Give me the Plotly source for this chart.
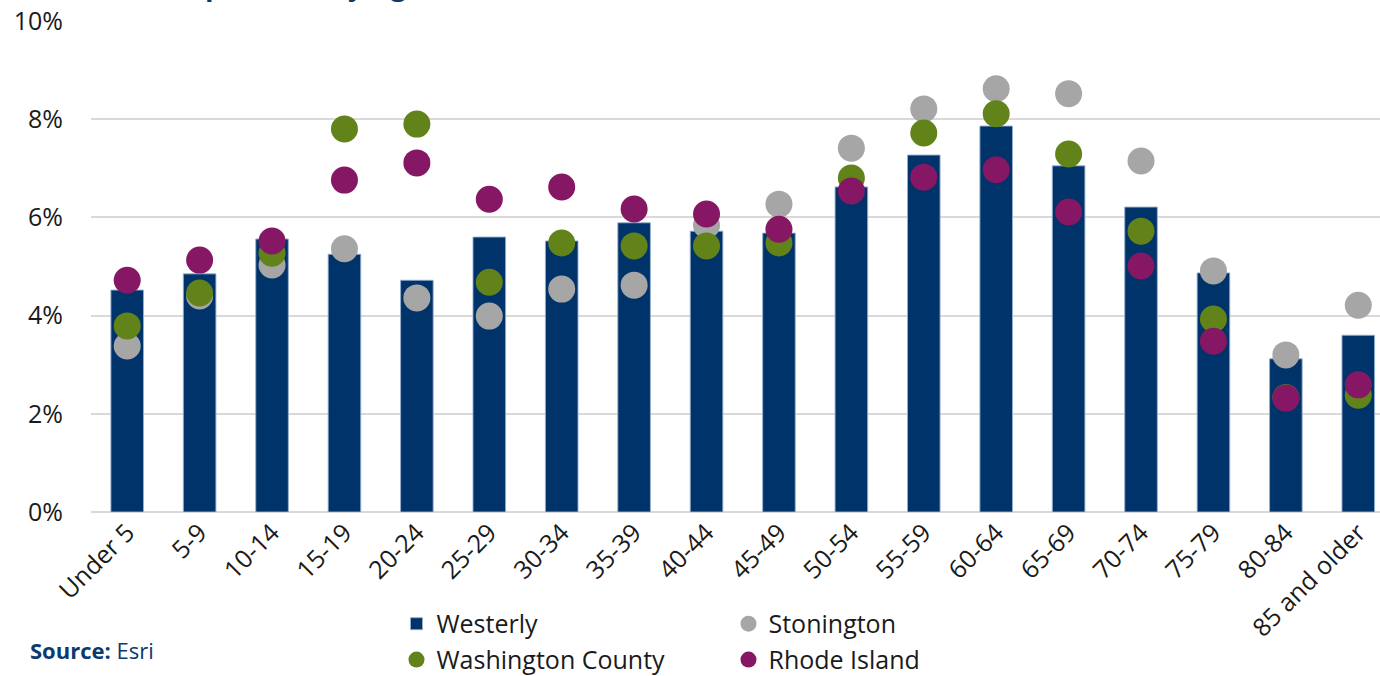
import plotly.graph_objects as go

age_groups = ["Under 5", "5-9", "10-14", "15-19", "20-24", "25-29", "30-34", "35-39",
              "40-44", "45-49", "50-54", "55-59", "60-64", "65-69", "70-74", "75-79",
              "80-84", "85 and older"]

westerly = [4.52, 4.85, 5.56, 5.25, 4.72, 5.60, 5.52, 5.89, 5.72, 5.68, 6.62, 7.27,
            7.86, 7.05, 6.21, 4.87, 3.12, 3.60]
stonington = [3.38, 4.40, 5.03, 5.36, 4.36, 3.99, 4.54, 4.62, 5.84, 6.27, 7.41, 8.21,
              8.62, 8.52, 7.15, 4.91, 3.20, 4.21]
washington_county = [3.79, 4.46, 5.27, 7.80, 7.90, 4.68, 5.48, 5.42, 5.42, 5.48, 6.80, 7.72,
                     8.11, 7.29, 5.72, 3.93, 2.33, 2.38]
rhode_island = [4.72, 5.13, 5.52, 6.76, 7.11, 6.37, 6.62, 6.17, 6.07, 5.76, 6.54, 6.82,
                6.97, 6.11, 5.01, 3.48, 2.32, 2.59]

y_ticks = [0, 2, 4, 6, 8, 10]
y_tick_labels = ["0%", "2%", "4%", "6%", "8%", "10%"]

BAR = "#003369"
GREY = "#A6A6A6"
GREEN = "#62821A"
MAGENTA = "#851764"
FONT = "Open Sans"

fig = go.Figure()
fig.add_trace(go.Bar(
    x=age_groups, y=westerly, name="Westerly", width=0.45,
    marker=dict(color=BAR, line=dict(color="rgba(150,175,205,0.9)", width=1)),
    legend="legend",
))
for name, vals, col, leg in [
    ("Stonington", stonington, GREY, "legend"),
    ("Washington County", washington_county, GREEN, "legend2"),
    ("Rhode Island", rhode_island, MAGENTA, "legend2"),
]:
    fig.add_trace(go.Scatter(
        x=age_groups, y=vals, name=name, mode="markers",
        marker=dict(color=col, size=27, line=dict(width=0)),
        legend=leg,
    ))

legend_common = dict(
    orientation="h", xanchor="left", yanchor="middle",
    font=dict(family=FONT, size=25, color="#1a1a1a"),
    entrywidth=287, entrywidthmode="pixels",
    bgcolor="rgba(0,0,0,0)", itemclick=False, itemdoubleclick=False,
    tracegroupgap=0,
)

fig.update_layout(
    width=1380, height=676,
    margin=dict(l=91, r=0, t=21, b=164, autoexpand=False),
    paper_bgcolor="white", plot_bgcolor="white",
    font=dict(family=FONT, color="#262626"),
    showlegend=True,
    legend=dict(x=0.237, y=-0.228, **legend_common),
    legend2=dict(x=0.237, y=-0.301, **legend_common),
    xaxis=dict(
        type="category", range=[-0.5, 17.30], automargin=False,
        tickangle=-45, tickfont=dict(family=FONT, size=25, color="#1a1a1a"),
        showgrid=False, showline=False, ticks="",
    ),
    yaxis=dict(
        range=[0, 10], tickvals=y_ticks, ticktext=y_tick_labels, automargin=False,
        tickfont=dict(family=FONT, size=25, color="#1a1a1a"),
        showgrid=True, gridcolor="#D9D9D9", gridwidth=1.5,
        zeroline=True, zerolinecolor="#D9D9D9", zerolinewidth=1.5,
        showline=False, ticks="", ticklabelstandoff=27,
    ),
    annotations=[
        dict(text="<b>Source:</b> Esri", xref="paper", yref="paper",
             x=-0.049, y=-0.282, xanchor="left", yanchor="middle", showarrow=False,
             font=dict(family=FONT, size=22, color="#0B3A6E")),
        dict(text="<b>Population by Age</b>", xref="paper", yref="paper",
             x=0.06, y=1.033, xanchor="left", yanchor="bottom", showarrow=False,
             font=dict(family=FONT, size=28, color="#0B3A6E")),
    ],
)

fig.write_html("out.html",
               config={"displayModeBar": False},
               post_script="document.body.style.margin='0';document.body.style.overflow='hidden';")
